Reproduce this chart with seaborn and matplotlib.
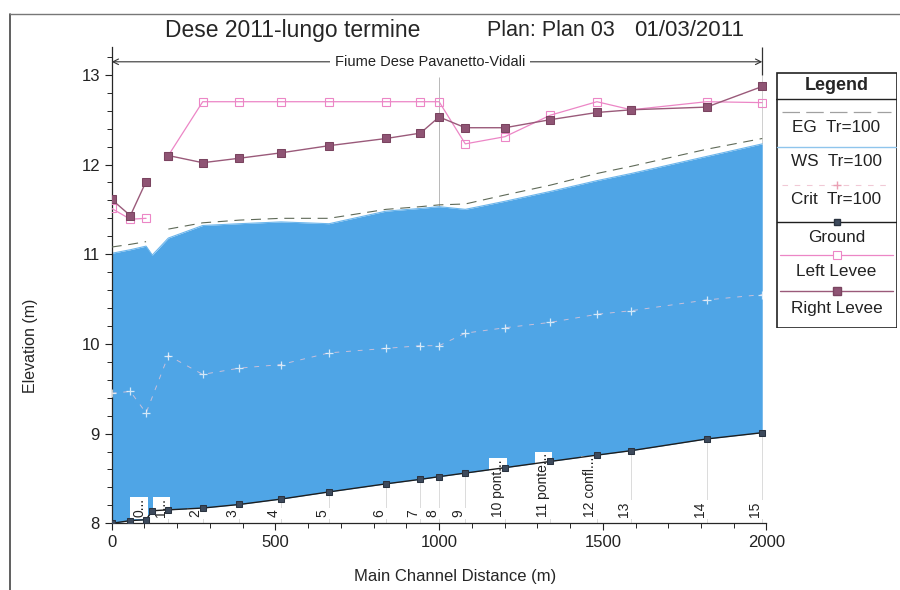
import numpy as np
import pandas as pd
import matplotlib
matplotlib.use("Agg")
import matplotlib.pyplot as plt
from matplotlib.lines import Line2D
from matplotlib.patches import Rectangle
from matplotlib.ticker import MultipleLocator
import seaborn as sns

nan = np.nan

# ---------------- data ----------------
distance = [0, 57, 105, 124, 173, 278, 390, 517, 664, 838, 943, 1000,
            1080, 1201, 1340, 1482, 1587, 1817, 1987]
ground = [8.00, 8.03, 8.04, 8.14, 8.15, 8.17, 8.21, 8.27, 8.35, 8.44, 8.49,
          8.52, 8.56, 8.62, 8.69, 8.76, 8.81, 8.94, 9.01]
ws = [11.01, 11.05, 11.09, 10.99, 11.18, 11.32, 11.34, 11.36, 11.34, 11.48,
      11.51, 11.53, 11.50, 11.59, 11.70, 11.82, 11.90, 12.09, 12.23]
eg = [11.08, 11.11, 11.14, nan, 11.28, 11.35, 11.38, 11.40, 11.40, 11.50,
      11.53, 11.55, 11.56, 11.66, 11.77, 11.90, 11.98, 12.17, 12.29]
crit = [9.45, 9.47, 9.23, nan, 9.87, 9.66, 9.73, 9.77, 9.90, 9.95, 9.98,
        9.98, 10.12, 10.18, 10.24, 10.33, 10.37, 10.49, 10.55]
left_levee = [11.51, 11.39, 11.40, nan, 12.10, 12.70, 12.70, 12.70, 12.70,
              12.70, 12.70, 12.70, 12.23, 12.31, 12.55, 12.70, 12.61, 12.70, 12.69]
right_levee = [11.61, 11.43, 11.81, nan, 12.10, 12.02, 12.07, 12.13, 12.21,
               12.29, 12.35, 12.53, 12.41, 12.41, 12.50, 12.58, 12.61, 12.64, 12.87]
station_labels = ["", "", "0...", "", "1...", "2", "3", "4", "5", "6", "7", "8",
                  "9", "10 pont...", "11 ponte...", "12 confl...", "13", "14", "15"]
junction_distance = 1000

title_parts = ["Dese 2011-lungo termine", "Plan: Plan 03", "01/03/2011"]
reach_name = "Fiume Dese Pavanetto-Vidali"
legend_entries = ["EG  Tr=100", "WS  Tr=100", "Crit  Tr=100", "Ground",
                  "Left Levee", "Right Levee"]

df = pd.DataFrame({"distance": distance, "ground": ground, "ws": ws, "eg": eg,
                   "crit": crit, "left": left_levee, "right": right_levee,
                   "label": station_labels})
df["seg"] = (df.index > 3).astype(int)

# ---------------- style ----------------
sns.set_style("ticks")
plt.rcParams["font.family"] = ["Liberation Sans", "DejaVu Sans"]
plt.rcParams["axes.linewidth"] = 0.9

W, H = 900, 590
fig = plt.figure(figsize=(9, 5.9), dpi=100)

x0px, x1px = 111.7, 766.5
ytop_px, ybot_px = 47.0, 523.3
ax = fig.add_axes([x0px / W, 1 - ybot_px / H, (x1px - x0px) / W, (ybot_px - ytop_px) / H])
ax.set_xlim(0, 2000)
ax.set_ylim(8, 13.31)

WATER = "#4fa5e6"
GROUND_C = "#1e1e1e"
GROUND_M = "#3d4a5c"
LEFT_C = "#ec86c6"
RIGHT_C = "#8f5474"
RIGHT_LINE = "#9a5a7a"
EG_C = "#5f6a58"
CRIT_C = "#f1c9d6"

# water fill between ground and water surface
ax.fill_between(df["distance"], df["ground"], df["ws"], color=WATER, lw=0, zorder=1)
sns.lineplot(data=df, x="distance", y="ws", color="#6db6ec", lw=0.8, ax=ax,
             estimator=None, sort=False, zorder=2)

# energy grade line
for s, g in df.dropna(subset=["eg"]).groupby("seg"):
    sns.lineplot(data=g, x="distance", y="eg", color=EG_C, lw=0.8, ax=ax,
                 estimator=None, sort=False, linestyle=(0, (9, 6)), zorder=3)

# critical depth
sns.lineplot(data=df.dropna(subset=["crit"]), x="distance", y="crit", color=CRIT_C,
             lw=0.7, ax=ax, estimator=None, sort=False, linestyle=(0, (5, 7)),
             marker="+", markersize=6, markeredgewidth=0.9, alpha=0.75, zorder=3)

# station guide lines
lab = df[df["label"] != ""]
ax.vlines(lab["distance"], 8, lab["ground"], color="#d6d6d6", lw=0.6, zorder=1.5)
jws = df.loc[df["distance"] == junction_distance, "ws"].iloc[0]
ax.vlines([junction_distance], jws, 12.98, color="#b8b8b8", lw=0.7, zorder=1.5)
ax.vlines([df["distance"].iloc[-1]], df["ws"].iloc[-1], 13.0, color="#cfcfcf", lw=0.7, zorder=1.5)

# station labels (behind the ground line)
for d, t in zip(lab["distance"], lab["label"]):
    ax.text(d, 8.065, t, rotation=90, ha="right", va="bottom", fontsize=10,
            color="#222222", zorder=3.5,
            bbox=dict(boxstyle="square,pad=0.12", fc="white", ec="none"))

# ground
sns.lineplot(data=df, x="distance", y="ground", color=GROUND_C, lw=1.0, ax=ax,
             estimator=None, sort=False, marker="s", markersize=5,
             markerfacecolor=GROUND_M, markeredgecolor="#2a3340", zorder=4)

# levees (gap at the bridge station)
for s, g in df.dropna(subset=["left"]).groupby("seg"):
    sns.lineplot(data=g, x="distance", y="left", color=LEFT_C, lw=0.9, ax=ax,
                 estimator=None, sort=False, marker="s", markersize=6,
                 markerfacecolor="none", markeredgecolor=LEFT_C, markeredgewidth=0.8,
                 zorder=5)
for s, g in df.dropna(subset=["right"]).groupby("seg"):
    sns.lineplot(data=g, x="distance", y="right", color=RIGHT_LINE, lw=1.0, ax=ax,
                 estimator=None, sort=False, marker="s", markersize=6,
                 markerfacecolor=RIGHT_C, markeredgecolor="#7a4460", zorder=6)

# reach arrow
ya = 13.145
xend = df["distance"].iloc[-1]
ax.annotate("", xy=(0, ya), xytext=(xend, ya),
            arrowprops=dict(arrowstyle="<->", lw=0.8, color="#333333",
                            shrinkA=0, shrinkB=0), zorder=8)
ax.vlines([xend], 13.0, 13.31, color="#333333", lw=0.9, zorder=8)
ax.text(972, ya, reach_name, ha="center", va="center", fontsize=10.5, color="#222222",
        zorder=9, bbox=dict(boxstyle="square,pad=0.35", fc="white", ec="none"))

# axes cosmetics
sns.despine(ax=ax, top=True, right=True)
ax.xaxis.set_major_locator(MultipleLocator(500))
ax.xaxis.set_minor_locator(MultipleLocator(100))
ax.yaxis.set_major_locator(MultipleLocator(1))
ax.yaxis.set_minor_locator(MultipleLocator(0.2))
ax.tick_params(axis="both", which="major", direction="out", length=5, width=0.8,
               labelsize=12, colors="#222222")
ax.tick_params(axis="both", which="minor", direction="out", length=3.5, width=0.7)
ax.set_xlabel("Main Channel Distance (m)", fontsize=12)
ax.set_ylabel("Elevation (m)", fontsize=11.5)
ax.yaxis.set_label_coords(-(x0px - 38) / (x1px - x0px), (ybot_px - 346) / (ybot_px - ytop_px))
ax.xaxis.set_label_coords(0.525, -(569 - ybot_px) / (ybot_px - ytop_px))
ax.set_facecolor("white")

# title
fig.text(165 / W, 1 - 31 / H, title_parts[0], ha="left", va="center", fontsize=16.5)
fig.text(487 / W, 1 - 31 / H, title_parts[1], ha="left", va="center", fontsize=15.5)
fig.text(634 / W, 1 - 31 / H, title_parts[2], ha="left", va="center", fontsize=16)

# page frame (scan border)
fig.add_artist(Line2D([10 / W, 10 / W], [0, 1 - 14 / H], color="#444444", lw=1.2))
fig.add_artist(Line2D([10 / W, 1], [1 - 14 / H, 1 - 14 / H], color="#777777", lw=1.0))

# legend panel
lx0, lx1, ly0, ly1 = 776, 897, 72, 328
lax = fig.add_axes([lx0 / W, 1 - ly1 / H, (lx1 - lx0) / W, (ly1 - ly0) / H])
lax.set_xlim(lx0, lx1)
lax.set_ylim(ly1, ly0)
lax.axis("off")
lax.add_patch(Rectangle((lx0 + 0.5, ly0 + 0.5), lx1 - lx0 - 1, ly1 - ly0 - 1,
                        fill=False, ec="#222222", lw=1.2))
cx = (lx0 + lx1) / 2
lax.text(cx, 86, "Legend", ha="center", va="center", fontsize=13, fontweight="bold")
lax.plot([lx0, lx1], [99, 99], color="#222222", lw=1.0)
sy = [112, 147, 185, 222, 255, 291]
ty = [127, 162, 200, 237, 272, 308]
lax.plot([lx0 + 6, lx1 - 6], [sy[0]] * 2, color="#a0a0a0", lw=0.9, linestyle=(0, (14, 5)))
lax.plot([lx0 + 1, lx1 - 1], [sy[1]] * 2, color="#8fc5ec", lw=1.0)
lax.plot([lx0 + 6, lx1 - 6], [sy[2]] * 2, color=CRIT_C, lw=0.8, linestyle=(0, (5, 6)))
lax.plot([cx], [sy[2]], marker="+", color="#eaa0b4", markersize=6)
lax.plot([lx0 + 1, lx1 - 1], [sy[3]] * 2, color=GROUND_C, lw=1.0)
lax.plot([cx], [sy[3]], marker="s", markersize=5, markerfacecolor=GROUND_M,
         markeredgecolor="#2a3340")
lax.plot([lx0 + 4, lx1 - 4], [sy[4]] * 2, color=LEFT_C, lw=0.9)
lax.plot([cx], [sy[4]], marker="s", markersize=6, markerfacecolor="white",
         markeredgecolor=LEFT_C, markeredgewidth=0.8)
lax.plot([lx0 + 4, lx1 - 4], [sy[5]] * 2, color=RIGHT_LINE, lw=1.0)
lax.plot([cx], [sy[5]], marker="s", markersize=6, markerfacecolor=RIGHT_C,
         markeredgecolor="#7a4460")
for t, y in zip(legend_entries, ty):
    lax.text(cx, y, t, ha="center", va="center", fontsize=12.3, color="#222222")

fig.savefig("out.png", dpi=100)
